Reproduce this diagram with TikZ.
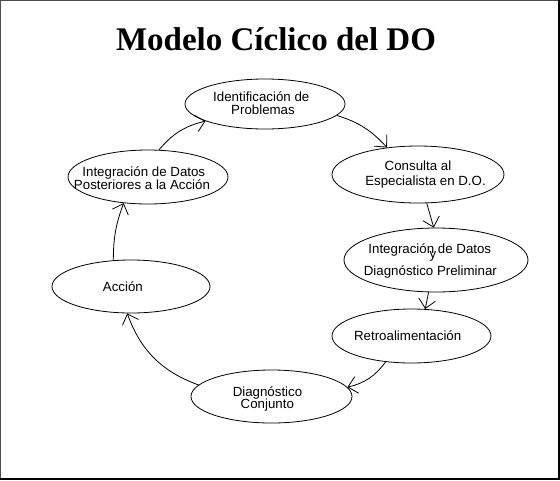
\documentclass[tikz,border=0pt]{standalone}
\usepackage{fontspec}
\setmainfont{Liberation Sans}
\newfontfamily\titlefont{Liberation Serif}
\usetikzlibrary{shapes.geometric,arrows.meta}
\tikzset{
  bubble/.style={draw, ellipse, line width=0.8pt, inner sep=0pt},
  lbl/.style={anchor=base, inner sep=0pt, font=\fontsize{13.3}{14}\selectfont},
  flow/.style={line width=0.8pt, -{Straight Barb[length=9pt,width=17pt]}},
}
\begin{document}
\begin{tikzpicture}[x=1pt,y=1pt]
\useasboundingbox (0,0) rectangle (560,-480);
\fill[white] (0,0) rectangle (560,-480);
\draw[line width=1.2pt, black!70] (0.6,-479) |- (559,-0.6);
\draw[line width=2pt] (0,-478.5) -| (558.5,0);

\node[anchor=base, inner sep=0pt, font=\titlefont\bfseries\fontsize{33}{36}\selectfont] (title) at (276,-50) {Modelo Cíclico del DO};

\node[bubble, minimum width=160pt, minimum height=50pt] (p) at (265,-104) {};
\node[bubble, minimum width=172pt, minimum height=57pt] (c) at (418,-174.5) {};
\node[bubble, minimum width=184pt, minimum height=64pt] (i) at (436,-260) {};
\node[bubble, minimum width=159pt, minimum height=54pt] (r) at (411.5,-336) {};
\node[bubble, minimum width=161pt, minimum height=53pt] (d) at (271.5,-396.5) {};
\node[bubble, minimum width=158pt, minimum height=53pt] (a) at (131,-286.5) {};
\node[bubble, minimum width=160pt, minimum height=54pt] (q) at (148,-177) {};

\node[lbl] (p1) at (261.3,-101) {Identificación de};
\node[lbl] (p2) at (263,-114) {Problemas};
\node[lbl] (c1) at (418,-170.7) {Consulta al};
\node[lbl] (c2) at (425.5,-185) {Especialista en D.O.};
\node[lbl] (i1) at (429.8,-253.3) {Integración de Datos};
\node[lbl] (iy) at (433,-258) {y};
\node[lbl] (i2) at (430.4,-275.7) {Diagnóstico Preliminar};
\node[lbl] (r1) at (407.7,-340.7) {Retroalimentación};
\node[lbl] (d1) at (267.5,-396) {Diagnóstico};
\node[lbl] (d2) at (267.3,-408.3) {Conjunto};
\node[lbl] (a1) at (122.9,-291.7) {Acción};
\node[lbl] (q1) at (143.8,-176.7) {Integración de Datos};
\node[lbl] (q2) at (142,-189.3) {Posteriores a la Acción};

\draw[flow] (p.-9) to[bend left=15] (c.139);
\draw[flow] (c.-73) to (i.94);
\draw[flow] (i.-103) to (r.63);
\draw[flow] (r.-135) to[bend left=20] (d.7);
\draw[flow] (d.171) to[bend left=25] (a.-98);
\draw[flow] (a.124) to[bend left=10] (q.-133);
\draw[flow] (q.68) to[bend left=18] (p.-164);
\end{tikzpicture}
\end{document}
